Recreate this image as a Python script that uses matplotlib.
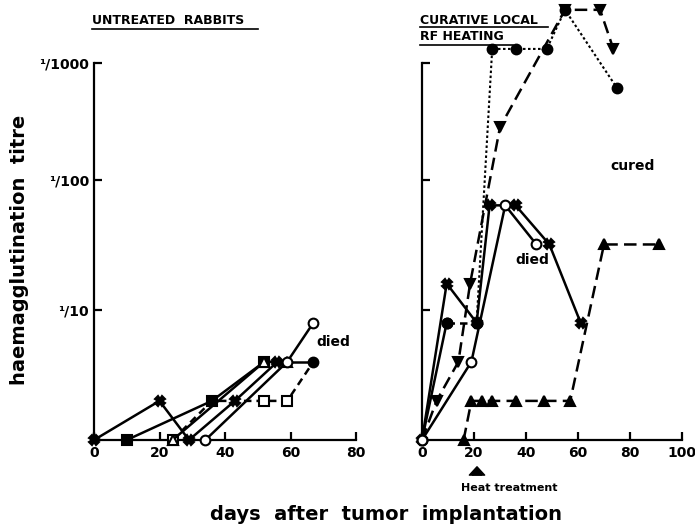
import numpy as np
import matplotlib
matplotlib.use("Agg")
import matplotlib.pyplot as plt
from matplotlib.lines import Line2D

# titre is given in doubling dilution steps (step n = 1/2**n)
# untreated rabbits
l_cross_x = [0, 20, 29, 43, 56]
l_cross_y = [0, 1, 0, 1, 2]
l_sqf_x = [10, 36, 52]
l_sqf_y = [0, 1, 2]
l_sqo_x = [24, 36, 52, 59, 67]
l_sqo_y = [0, 1, 1, 1, 2]
l_trio_x = [24, 52, 59]
l_trio_y = [0, 2, 2]
l_circo_x = [34, 59, 67]
l_circo_y = [0, 2, 3]
l_circf_x = [59, 67]
l_circf_y = [2, 2]

# curative local RF heating
r_cross_x = [0, 9.5, 21, 26, 36, 49, 61]
r_cross_y = [0, 4, 3, 6, 6, 5, 3]
r_circo_x = [0, 19, 32, 44]
r_circo_y = [0, 2, 6, 5]
r_trid_x = [0, 5.6, 14, 18.5, 30, 55, 68.5, 73.6]
r_trid_y = [0, 1, 2, 4, 8, 11, 11, 10]
r_circf_x = [0, 9.5, 21, 27, 36, 48, 55, 75]
r_circf_y = [0, 3, 3, 10, 10, 10, 11, 9]
r_triu_x = [16, 19, 23, 27, 36, 47, 57, 70, 91]
r_triu_y = [0, 1, 1, 1, 1, 1, 1, 5, 5]

ytick_labels = ["\u00b9/10", "\u00b9/100", "\u00b9/1000"]
# the 1/1000 tick sits a little low in the original drawing
ytick_pos = [np.log2(10), np.log2(100), 9.65]

W, H = 695, 529
fig = plt.figure(figsize=(W / 100, H / 100), dpi=100)
plt.rcParams['font.family'] = 'DejaVu Sans'

def px(x0, y0, x1, y1):
    return [x0 / W, 1 - y1 / H, (x1 - x0) / W, (y1 - y0) / H]

ax1 = fig.add_axes(px(94, 2, 356, 440))
ax2 = fig.add_axes(px(422, 2, 682, 440))

lw = 1.8
ms = 7
dash = (0, (5, 2.5))
sdash = (0, (3, 2))
dot = (0, (1.2, 1.2))

def style(ax, xmax):
    ax.set_xlim(0, xmax)
    ax.set_ylim(0, 11.2)
    for s in ['top', 'right']:
        ax.spines[s].set_visible(False)
    ax.spines['left'].set_bounds(0, ytick_pos[-1])
    ax.spines['bottom'].set_bounds(0, xmax)
    for s in ['left', 'bottom']:
        ax.spines[s].set_linewidth(1.6)
    ax.set_xticks(range(0, xmax + 1, 20))
    ax.set_yticks(ytick_pos)
    ax.tick_params(direction='in', length=6, width=1.6, labelsize=10)
    for t in ax.get_xticklabels() + ax.get_yticklabels():
        t.set_fontweight('bold')

style(ax1, 80)
style(ax2, 100)
ax1.set_yticklabels(ytick_labels, fontweight='bold', fontsize=10)
ax2.set_yticklabels([])
ax1.tick_params(axis='x', pad=4)
ax2.tick_params(axis='x', pad=4)

def series(ax, x, y, marker, ls, filled=True, every=None, lw_=lw):
    ax.plot(x, y, color='k', lw=lw_, linestyle=ls, marker=marker, ms=ms,
            mfc='k' if filled else 'white', mec='k', mew=1.5,
            markevery=every, clip_on=False, zorder=3)

# left panel
series(ax1, l_sqo_x, l_sqo_y, 's', sdash, filled=False, every=[0, 2, 3])
series(ax1, l_circf_x, l_circf_y, 'o', '-', every=[1])
series(ax1, l_cross_x, l_cross_y, 'X', '-')
series(ax1, l_sqf_x, l_sqf_y, 's', '-')
series(ax1, l_trio_x, l_trio_y, '^', '-', filled=False)
series(ax1, l_circo_x, l_circo_y, 'o', '-', filled=False)
ax1.text(68, 2.5, "died", fontsize=10, fontweight='bold', va='center')

# right panel
series(ax2, r_triu_x, r_triu_y, '^', dash)
series(ax2, r_trid_x, r_trid_y, 'v', dash, every=list(range(1, 8)))
series(ax2, r_circf_x[:2], r_circf_y[:2], 'o', '-')
series(ax2, r_circf_x[1:3], r_circf_y[1:3], 'o', sdash)
series(ax2, r_circf_x[2:], r_circf_y[2:], 'o', dot, lw_=1.5)
series(ax2, r_cross_x, r_cross_y, 'X', '-')
series(ax2, r_circo_x, r_circo_y, 'o', '-', filled=False)
ax2.text(42.5, 4.6, "died", fontsize=10, fontweight='bold', ha='center', va='center')
ax2.text(81, 7.0, "cured", fontsize=10, fontweight='bold', ha='center', va='center')

# heat treatment arrow
ax2.annotate("", xy=(477 / W, 1 - 464 / H), xytext=(477 / W, 1 - 478 / H),
             xycoords='figure fraction', textcoords='figure fraction',
             arrowprops=dict(arrowstyle='simple,head_width=1.1,head_length=0.6,tail_width=0.55',
                             color='k'))
fig.text(509 / W, 1 - 488 / H, "Heat treatment", fontsize=8, fontweight='bold',
         ha='center', va='center')

# panel headings, underlined
def heading(x, y, s, x1, yl):
    fig.text(x / W, 1 - y / H, s, fontsize=9, fontweight='bold', va='center')
    fig.add_artist(Line2D([x / W, x1 / W], [1 - yl / H, 1 - yl / H], color='k', lw=1.2))

heading(92, 21, "UNTREATED  RABBITS", 258, 29)
heading(420, 20, "CURATIVE LOCAL", 548, 27)
heading(420, 37, "RF HEATING", 513, 45)

fig.text(20 / W, 1 - 250 / H, "haemagglutination  titre", rotation=90, fontsize=14,
         fontweight='bold', ha='center', va='center')
fig.text(386 / W, 1 - 515 / H, "days  after  tumor  implantation", fontsize=14,
         fontweight='bold', ha='center', va='center')

fig.savefig("out.png", dpi=100)
